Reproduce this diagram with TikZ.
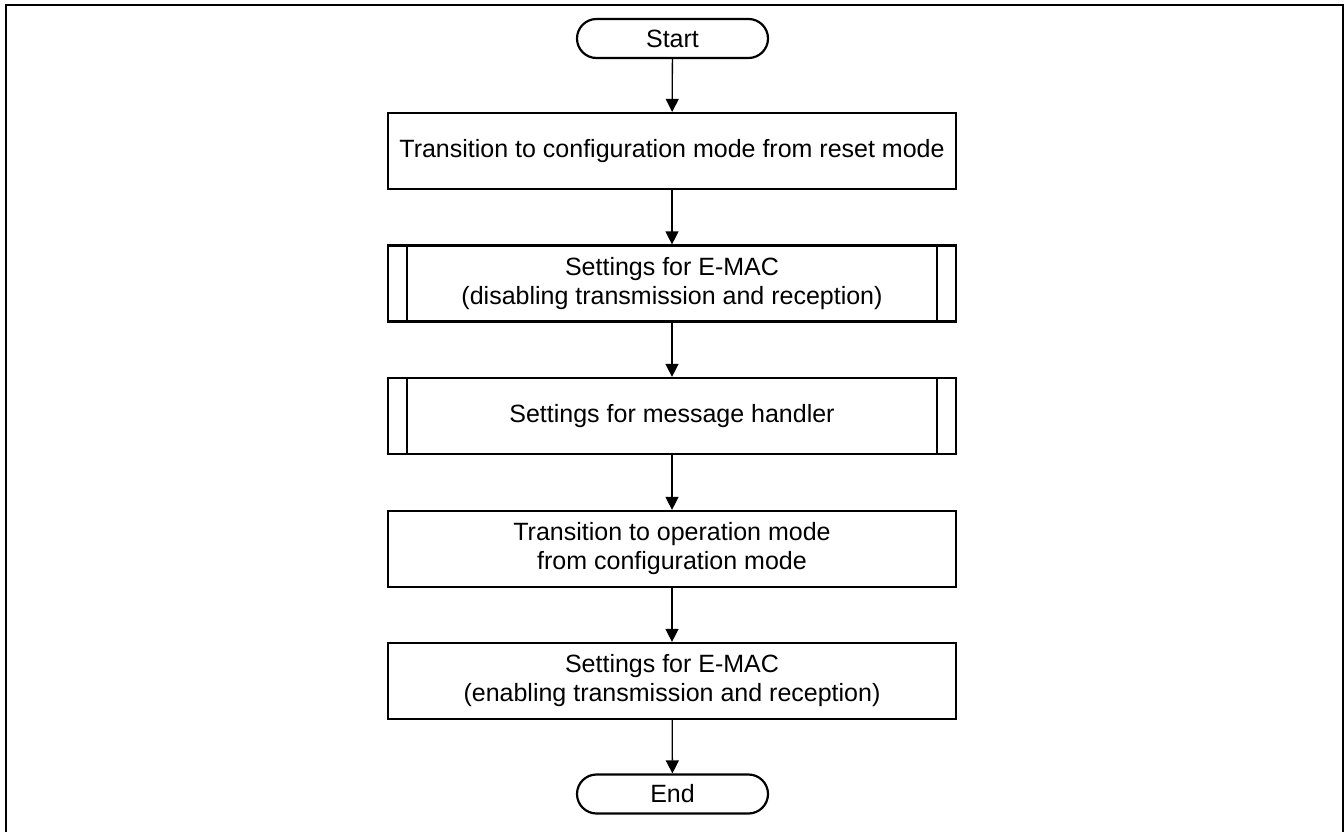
\documentclass[tikz,border=0pt]{standalone}
\usepackage{fontspec}
\setmainfont{Liberation Sans}
\usetikzlibrary{arrows.meta}
\begin{document}
\begin{tikzpicture}[x=1pt,y=-1pt,
  txt/.style={font=\fontsize{25}{29}\selectfont},
  box/.style={txt,draw,line width=2.2pt,minimum width=568pt,minimum height=76pt,align=center,inner sep=0pt},
  term/.style={txt,draw,line width=2.2pt,minimum width=191pt,minimum height=39pt,rounded corners=19.5pt,inner sep=0pt},
  arr/.style={line width=1.3pt,-{Triangle[width=13pt,length=13pt]}},
  side/.style={line width=2.2pt}]
\useasboundingbox (0,0) rectangle (1344,832);
\draw[line width=2pt] (5.5,836) -- (5.5,5.5) -- (1342.5,5.5) -- (1342.5,836);
\node[term] (start) at (672.5,38.5) {Start};
\node[box] (b1) at (672,151) {Transition to configuration mode from reset mode};
\node[box] (b2) at (672,283.5) {Settings for E-MAC\\(disabling transmission and reception)};
\node[box] (b3) at (672,416) {Settings for message handler};
\node[box] (b4) at (672,549) {Transition to operation mode\\from configuration mode};
\node[box] (b5) at (672,681) {Settings for E-MAC\\(enabling transmission and reception)};
\node[term] (end) at (672.5,794) {End};
\foreach \n in {b2,b3}{
  \draw[side] ([xshift=20pt]\n.north west) -- ([xshift=20pt]\n.south west);
  \draw[side] ([xshift=-20pt]\n.north east) -- ([xshift=-20pt]\n.south east);
}
\draw[arr] (start) -- (b1);
\draw[arr] (b1) -- (b2);
\draw[arr] (b2) -- (b3);
\draw[arr] (b3) -- (b4);
\draw[arr] (b4) -- (b5);
\draw[arr] (b5) -- (end);
\end{tikzpicture}
\end{document}
